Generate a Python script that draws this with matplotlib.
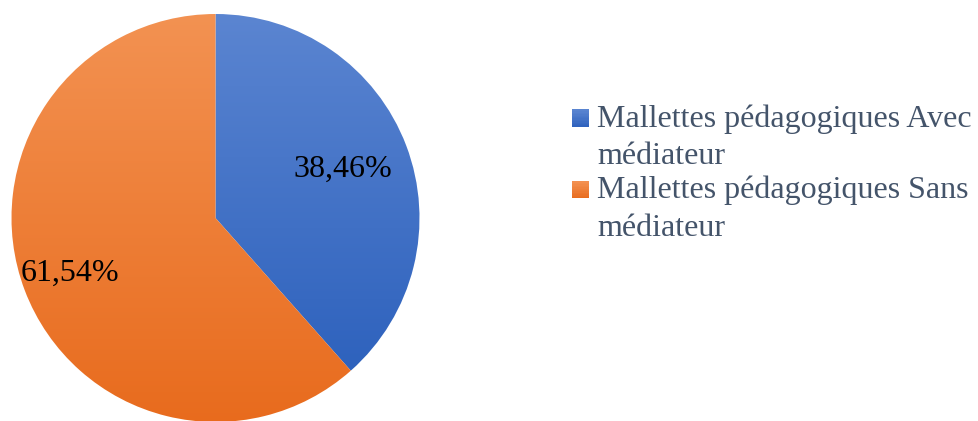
import numpy as np
import matplotlib
matplotlib.use("Agg")
import matplotlib.pyplot as plt
from matplotlib.patches import Rectangle
from matplotlib.legend_handler import HandlerBase
from matplotlib.colors import LinearSegmentedColormap, to_rgb

categories = ["Mallettes pédagogiques Avec\nmédiateur",
              "Mallettes pédagogiques Sans\nmédiateur"]
values = [38.46, 61.54]
pct_labels = ["38,46%", "61,54%"]

top_colors = ["#5b85d1", "#f39252"]
bottom_colors = ["#2e62bd", "#e86b1d"]
label_radius = [0.67, 0.765]

plt.rcParams['font.family'] = ['Liberation Serif', 'DejaVu Serif']

W, H = 979, 421
FS = 23
fig = plt.figure(figsize=(W / 100, H / 100), dpi=100)
ax = fig.add_axes([0, 0, 1, 1])
ax.set_xlim(0, W)
ax.set_ylim(0, H)
ax.set_aspect('equal')
ax.axis('off')

cx, cy, R = 215.5, H - 218, 204
wedges, _ = ax.pie(values, center=(cx, cy), radius=R, startangle=90,
                   counterclock=False, colors=top_colors,
                   wedgeprops=dict(linewidth=0))

for i, w in enumerate(wedges):
    w.set_facecolor('none')
    verts = w.get_path().vertices
    x0, x1 = verts[:, 0].min(), verts[:, 0].max()
    y0, y1 = verts[:, 1].min(), verts[:, 1].max()
    cmap = LinearSegmentedColormap.from_list('g%d' % i, [bottom_colors[i], top_colors[i]])
    grad = np.linspace(0, 1, 256).reshape(-1, 1)
    im = ax.imshow(grad, cmap=cmap, extent=(x0, x1, y0, y1), origin='lower',
                   aspect='auto', zorder=0.5)
    im.set_clip_path(w)
    mid = np.deg2rad((w.theta1 + w.theta2) / 2)
    r = label_radius[i] * R
    ax.text(cx + r * np.cos(mid), cy + r * np.sin(mid), pct_labels[i],
            ha='center', va='center', fontsize=FS, color='black', zorder=3)

ax.set_xlim(0, W)
ax.set_ylim(0, H)

PITCH_PT = 37.5 * 72 / 100  # line pitch in points


class GradHandler(HandlerBase):
    def __init__(self, top, bottom):
        super().__init__()
        self.top = top
        self.bottom = bottom

    def create_artists(self, legend, orig_handle, xdescent, ydescent,
                       width, height, fontsize, trans):
        n = 12
        side = width
        y0 = -ydescent + (height - side) / 2 + PITCH_PT / 2
        arts = []
        t = np.array(to_rgb(self.top))
        b = np.array(to_rgb(self.bottom))
        for k in range(n):
            f = (k + 0.5) / n
            col = b * (1 - f) + t * f
            arts.append(Rectangle((-xdescent, y0 + side * k / n), side, side / n + 0.3,
                                  facecolor=col, edgecolor='none', transform=trans))
        return arts


handles = [Rectangle((0, 0), 1, 1) for _ in categories]
hmap = {h: GradHandler(top_colors[i], bottom_colors[i]) for i, h in enumerate(handles)}
leg = fig.legend(handles, categories, handler_map=hmap,
                 loc='upper left', bbox_to_anchor=(572 / W, 1 - 104 / H),
                 frameon=False, fontsize=FS, labelcolor='#44546a',
                 handlelength=0.53, handleheight=0.53, handletextpad=0.25,
                 labelspacing=0.15, borderpad=0, borderaxespad=0)
for t in leg.get_texts():
    t.set_linespacing(1.38)

fig.savefig('out.png', dpi=100)
